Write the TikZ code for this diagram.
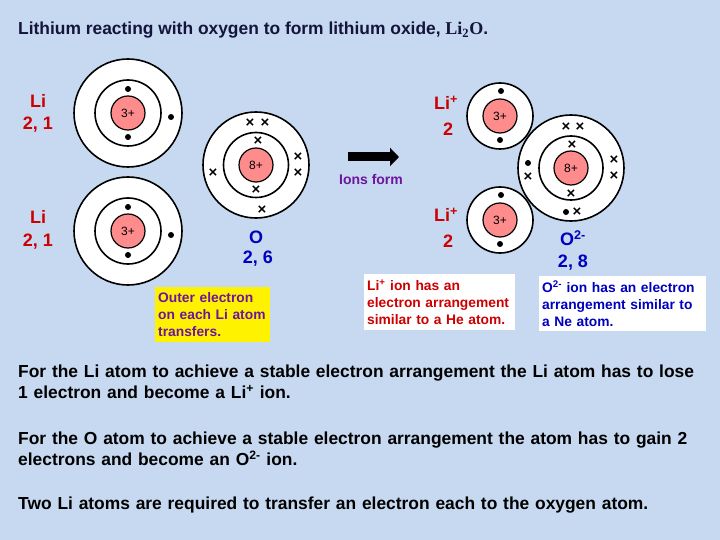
\documentclass[tikz,border=0pt]{standalone}
\usepackage{fontspec}
\setmainfont{Liberation Sans}
\newfontfamily\serifx{Liberation Serif}
\usetikzlibrary{arrows.meta}
\begin{document}
\begin{tikzpicture}[x=1pt,y=-1pt,
  shell/.style={draw=black,line width=1.6pt,fill=white},
  nuc/.style={draw=black,line width=1.2pt,fill=red!45!white},
  el/.style={fill=black,circle,inner sep=0pt,minimum size=6pt},
  cr/.style={font=\bfseries\fontsize{15}{15}\selectfont,inner sep=0pt},
  nl/.style={font=\fontsize{12}{12}\selectfont,inner sep=0pt},
  red lab/.style={font=\bfseries\fontsize{18}{18}\selectfont,text=red!80!black},
  blue lab/.style={font=\bfseries\fontsize{18}{18}\selectfont,text=blue!75!black},
  tbox/.style={anchor=north west,inner sep=3pt,align=left,font=\bfseries\fontsize{13.8}{17}\selectfont},
  body/.style={font=\bfseries\fontsize{17.4}{21}\selectfont,anchor=north west,align=left,inner sep=0pt,text width=700pt}]
\fill[fill={rgb,255:red,198;green,217;blue,240}] (0,0) rectangle (720,540);
\useasboundingbox (0,0) rectangle (720,540);
\node[anchor=west,inner sep=0pt,font=\bfseries\fontsize{17.4}{18}\selectfont,text={rgb,255:red,20;green,20;blue,60}] (title) at (18,30) {Lithium reacting with oxygen to form lithium oxide, {\serifx\fontsize{18}{18}\selectfont Li\textsubscript{2}O}.};
% Li atoms
\foreach \n/\cy in {a/113,b/231}{
  \draw[shell] (128,\cy) circle (54);
  \draw[shell] (128,\cy) circle (33);
  \draw[nuc] (128,\cy) circle (17);
  \node[nl] (li\n) at (128,\cy) {3+};
  \node[el] (li\n e1) at (128,\cy-24) {};
  \node[el] (li\n e2) at (128,\cy+24) {};
  \node[el] (li\n e3) at (171,\cy+4) {};
}
\node[red lab] (lab1) at (38,101) {Li};
\node[red lab] (lab1b) at (38,125) {2, 1};
\node[red lab] (lab2) at (38,217) {Li};
\node[red lab] (lab2b) at (38,242) {2, 1};
% O atom
\draw[shell] (256,165) circle (53);
\draw[shell] (256,165) circle (32.5);
\draw[nuc] (256,165) circle (17);
\node[nl] (onuc) at (256,165) {8+};
\foreach \x/\y [count=\i] in {250/123,265/123,258/141,256/190,298/157,298/173,213/173,262/210}
  \node[cr] (ox\i) at (\x,\y) {×};
\node[blue lab] (olab) at (256,237) {O};
\node[blue lab] (olab2) at (258,259) {2, 6};
\node[tbox,fill=yellow,text={rgb,255:red,110;green,20;blue,160},text width=109pt,minimum height=55pt] (ybox) at (155,287) {Outer electron\\on each Li atom\\transfers.};
% arrow
\coordinate (as) at (348,157);
\coordinate (ae) at (399,157);
\draw[line width=9pt,-{Triangle[length=9pt,width=18pt]}] (as) -- (ae);
\node[font=\bfseries\fontsize{14}{14}\selectfont,text={rgb,255:red,110;green,20;blue,160}] (ions) at (371,179) {Ions form};
% O2- ion
\draw[shell] (571,168) circle (53);
\draw[shell] (571,168) circle (32);
\draw[nuc] (571,168) circle (17);
\node[nl] (o2nuc) at (571,168) {8+};
\foreach \x/\y [count=\i] in {566/127,580/127,572/145,571/194,614/160,614/176,528/177,577/212}
  \node[cr] (px\i) at (\x,\y) {×};
\node[el] (pe1) at (528,163) {};
\node[el] (pe2) at (566,212) {};
% Li+ ions
\foreach \n/\cy in {c/116,d/220}{
  \draw[shell] (500,\cy) circle (33);
  \draw[nuc] (500,\cy) circle (17);
  \node[nl] (li\n) at (500,\cy) {3+};
  \node[el] (li\n e1) at (501,\cy-25) {};
  \node[el] (li\n e2) at (500,\cy+24) {};
}
\node[red lab] (lab3) at (446,103) {Li\textsuperscript{+}};
\node[red lab] (lab3b) at (448,129) {2};
\node[red lab] (lab4) at (446,215) {Li\textsuperscript{+}};
\node[red lab] (lab4b) at (448,241) {2};
\node[blue lab] (o2lab) at (573,238) {O\textsuperscript{2-}};
\node[blue lab] (o2lab2) at (573,263) {2, 8};
\node[tbox,fill=white,text=red!80!black,text width=145pt,minimum height=56pt] (libox) at (364,274) {Li\textsuperscript{+} ion has an\\electron arrangement\\similar to a He atom.};
\node[tbox,fill=white,text=blue!75!black,text width=161pt,minimum height=55pt] (obox) at (539,276) {O\textsuperscript{2-} ion has an electron\\arrangement similar to\\a Ne atom.};
% body text
\node[body] (t1) at (18,365) {For the Li atom to achieve a stable electron arrangement the Li atom has to lose\\1 electron and become a Li\textsuperscript{+} ion.};
\node[body] (t2) at (18,432) {For the O atom to achieve a stable electron arrangement the atom has to gain 2\\electrons and become an O\textsuperscript{2-} ion.};
\node[body] (t3) at (18,497) {Two Li atoms are required to transfer an electron each to the oxygen atom.};
\end{tikzpicture}
\end{document}
